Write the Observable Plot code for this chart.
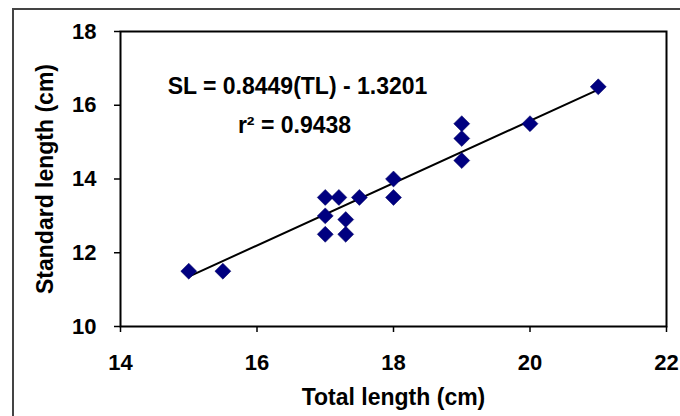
<!DOCTYPE html>
<html>
<head>
<meta charset="utf-8">
<script src="https://cdn.jsdelivr.net/npm/d3@7"></script>
<script src="https://cdn.jsdelivr.net/npm/@observablehq/plot@0.6"></script>
<style>
  html, body { margin: 0; padding: 0; background: #fff; }
  #wrap { position: relative; width: 680px; height: 416px; overflow: hidden; }
  #border { position: absolute; left: 12px; top: 8px; width: 720px; height: 460px; border: 2px solid #444; box-sizing: border-box; }
  #chart { position: absolute; left: 0; top: 0; }
  svg { font-family: "Liberation Sans", Arial, sans-serif; font-weight: bold; }
</style>
</head>
<body>
<div id="wrap"><div id="border"></div><div id="chart"></div></div>
<script>
// Total length (cm)
const totalLength = [15, 15.5, 17, 17.2, 17.5, 17, 17.3, 17, 17.3, 18, 18, 19, 19, 19, 20, 21];
// Standard length (cm)
const standardLength = [11.5, 11.5, 13.5, 13.5, 13.5, 13.0, 12.9, 12.5, 12.5, 14.0, 13.5, 15.5, 15.1, 14.5, 15.5, 16.5];
const slope = 0.8449;
const intercept = -1.3201;
const rSquared = 0.9438;
const xTicks = [14, 16, 18, 20, 22];
const yTicks = [10, 12, 14, 16, 18];

const points = totalLength.map((x, i) => ({x, y: standardLength[i]}));
const [xmin, xmax] = d3.extent(totalLength);
const fit = [xmin, xmax].map(x => ({x, y: slope * x + intercept}));

const chart = Plot.plot({
  width: 680,
  height: 416,
  marginLeft: 120,
  marginRight: 14,
  marginTop: 31,
  marginBottom: 90,
  style: {fontFamily: "Liberation Sans, Arial, sans-serif", fontWeight: "bold", fontSize: "22px", background: "transparent", color: "#000"},
  x: {domain: [14, 22]},
  y: {domain: [10, 18]},
  marks: [
    Plot.frame({stroke: "#000", strokeWidth: 2}),
    Plot.axisX({ticks: xTicks, tickSize: 6, tickPadding: 22, fontSize: 22, label: null, stroke: "#000", strokeWidth: 1.5}),
    Plot.axisY({ticks: yTicks, tickSize: 6, tickPadding: 18, fontSize: 22, label: null, stroke: "#000", strokeWidth: 1.5}),
    Plot.line(fit, {x: "x", y: "y", stroke: "#000", strokeWidth: 2}),
    Plot.dot(points, {x: "x", y: "y", symbol: "diamond2", r: 7.2, fill: "#000080", stroke: "#000060", strokeWidth: 0.5}),
    Plot.text(["Total length (cm)"], {frameAnchor: "bottom", dy: 78, fontSize: 23, fill: "#000", textAnchor: "middle"}),
    Plot.text(["Standard length (cm)"], {frameAnchor: "left", dx: -75, rotate: -90, fontSize: 23, fill: "#000", textAnchor: "middle"}),
    Plot.text([`SL = ${slope}(TL) - ${Math.abs(intercept).toFixed(4)}`], {frameAnchor: "top-left", dx: 177, dy: 46, fontSize: 23, fill: "#000", textAnchor: "middle"}),
    Plot.text([`r² = ${rSquared}`], {frameAnchor: "top-left", dx: 174, dy: 85, fontSize: 23, fill: "#000", textAnchor: "middle"})
  ]
});
document.getElementById("chart").appendChild(chart);
</script>
</body>
</html>
